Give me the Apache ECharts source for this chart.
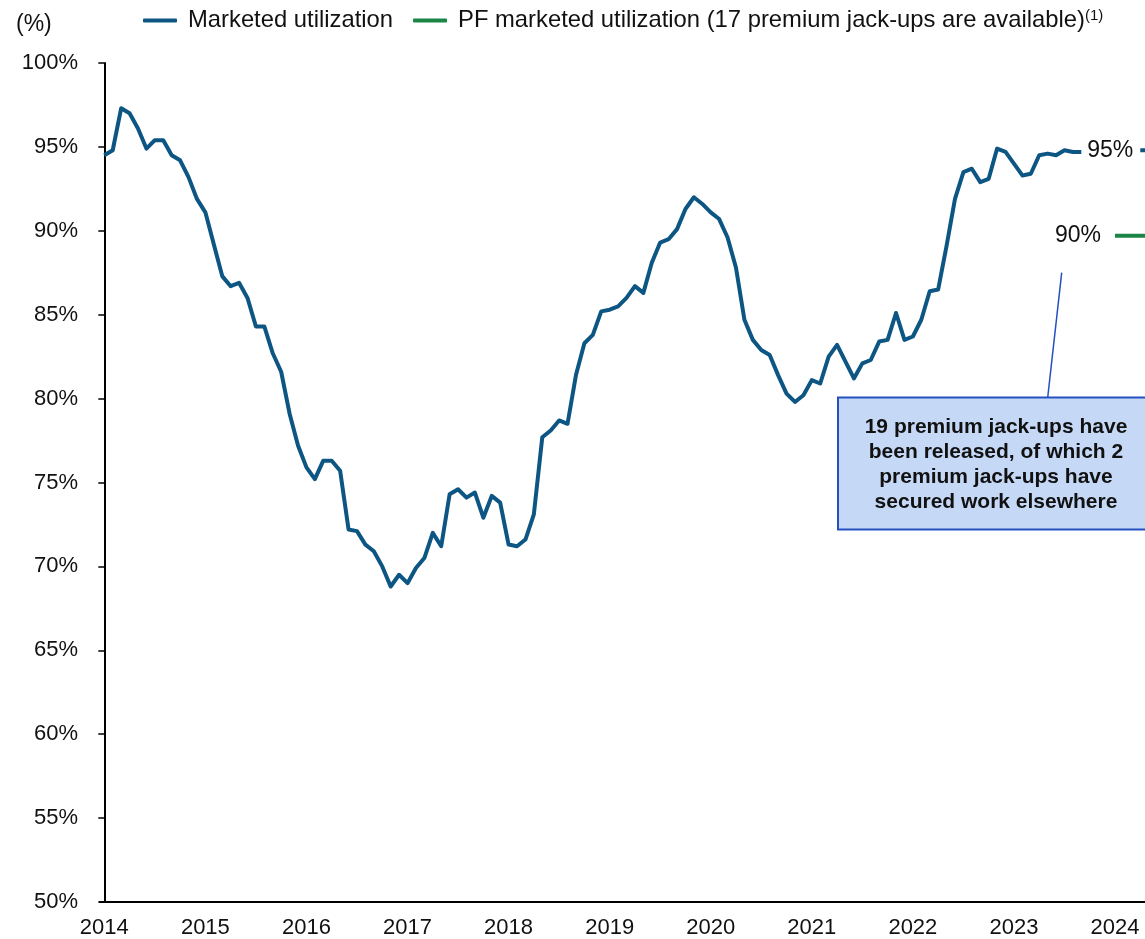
<!DOCTYPE html>
<html>
<head>
<meta charset="utf-8">
<script src="https://cdn.jsdelivr.net/npm/echarts@6/dist/echarts.min.js"></script>
<style>
  html, body { margin: 0; padding: 0; background: #fff; }
  #chart { width: 1145px; height: 939px; }
</style>
</head>
<body>
<div id="chart"></div>
<script>
// monthly marketed utilization (%), Jan 2014 .. Sep 2023
var utilization = [
    94.5, 94.8, 97.3, 97.0, 96.1, 94.9, 95.4, 95.4, 94.5, 94.2, 93.2, 91.9,
    91.1, 89.2, 87.3, 86.7, 86.9, 86.0, 84.3, 84.3, 82.7, 81.6, 79.1, 77.2,
    75.9, 75.2, 76.3, 76.3, 75.7, 72.2, 72.1, 71.3, 70.9, 70.0, 68.8, 69.5,
    69.0, 69.9, 70.5, 72.0, 71.2, 74.3, 74.6, 74.1, 74.4, 72.9, 74.2, 73.8,
    71.3, 71.2, 71.6, 73.1, 77.7, 78.1, 78.7, 78.5, 81.4, 83.3, 83.8, 85.2,
    85.3, 85.5, 86.0, 86.7, 86.3, 88.1, 89.3, 89.5, 90.1, 91.3, 92.0, 91.6,
    91.1, 90.7, 89.6, 87.8, 84.7, 83.5, 82.9, 82.6, 81.4, 80.3, 79.8, 80.2,
    81.1, 80.9, 82.5, 83.2, 82.2, 81.2, 82.1, 82.3, 83.4, 83.5, 85.1, 83.5,
    83.7, 84.7, 86.4, 86.5, 89.1, 91.9, 93.5, 93.7, 92.9, 93.1, 94.9, 94.7,
    94.0, 93.3, 93.4, 94.5, 94.6, 94.5, 94.8, 94.7, 94.7
];
var startYear = 2014;
var yearTicks = ['2014', '2015', '2016', '2017', '2018', '2019', '2020', '2021', '2022', '2023', '2024'];

// end markers (month index counted from Jan 2014, value %)
var currentEnd = [[123, 94.8], [132, 94.8]];
var pfEnd = [[120, 89.7], [132, 89.7]];

var nameMarketed = 'Marketed utilization';
var namePF = 'PF marketed utilization (17 premium jack-ups are available)';
var noteLines = [
    '19 premium jack-ups have',
    'been released, of which 2',
    'premium jack-ups have',
    'secured work elsewhere'
];

var blue = '#0d5683';
var green = '#1b8546';
var fontFam = '"Liberation Sans", Arial, sans-serif';

var lineData = utilization.map(function (v, i) {
    return [i, v];
});
var monthTicks = yearTicks.map(function (y) {
    return (parseInt(y, 10) - startYear) * 12;
});

// only the first point of an end marker carries the label
function endData(pts) {
    return pts.map(function (p, i) {
        return {value: p, label: {show: i === 0}};
    });
}

function endLabel(dist) {
    return {
        show: true,
        position: 'left',
        distance: dist,
        fontSize: 23,
        color: '#111',
        fontFamily: fontFam,
        formatter: function (p) {
            return Math.round(p.value[1]) + '%';
        }
    };
}

var myChart = echarts.init(document.getElementById('chart'));

var option = {
    animation: false,
    textStyle: {fontFamily: fontFam},
    title: {
        text: '(%)',
        left: 11,
        top: 8,
        textStyle: {fontSize: 23, fontWeight: 'normal', color: '#111', fontFamily: fontFam}
    },
    legend: {
        left: 143,
        top: 8,
        padding: 0,
        itemWidth: 34,
        itemHeight: 4,
        itemGap: 20,
        icon: 'roundRect',
        data: [nameMarketed, namePF],
        formatter: function (name) {
            return name === namePF ? name + '{sup|(1)}' : name;
        },
        textStyle: {
            fontSize: 23.8,
            color: '#111',
            fontFamily: fontFam,
            padding: [0, 0, 0, 6],
            rich: {
                sup: {fontSize: 15, verticalAlign: 'top', padding: [0, 0, 10, 0], color: '#111', fontFamily: fontFam}
            }
        }
    },
    grid: {
        left: 100,
        right: 0,
        top: 63,
        bottom: 37,
        containLabel: false
    },
    xAxis: {
        type: 'value',
        min: -0.51,
        max: 123.56,
        axisLine: {show: true, lineStyle: {color: '#000', width: 2}},
        axisTick: {show: false},
        splitLine: {show: false},
        axisLabel: {
            customValues: monthTicks,
            margin: 15,
            fontSize: 22,
            color: '#111',
            fontFamily: fontFam,
            formatter: function (v) {
                return yearTicks[Math.round(v / 12)];
            }
        }
    },
    yAxis: {
        type: 'value',
        min: 50,
        max: 100,
        interval: 5,
        axisLine: {show: true, lineStyle: {color: '#000', width: 2}},
        axisTick: {show: true, length: 6, lineStyle: {color: '#000', width: 1.5}},
        splitLine: {show: false},
        axisLabel: {
            margin: 22,
            fontSize: 22,
            color: '#111',
            fontFamily: fontFam,
            formatter: '{value}%'
        }
    },
    series: [{
        name: nameMarketed,
        type: 'line',
        data: lineData,
        color: blue,
        showSymbol: false,
        lineStyle: {width: 4, color: blue, join: 'round'},
        z: 3
    }, {
        name: nameMarketed,
        type: 'line',
        data: endData(currentEnd),
        color: blue,
        showSymbol: true,
        symbolSize: 0,
        lineStyle: {width: 4, color: blue},
        label: endLabel(7)
    }, {
        name: namePF,
        type: 'line',
        data: endData(pfEnd),
        color: green,
        showSymbol: true,
        symbolSize: 0,
        lineStyle: {width: 4, color: green},
        label: endLabel(14)
    }],
    graphic: [{
        type: 'line',
        shape: {x1: 1061.7, y1: 272.7, x2: 1047.7, y2: 397.5},
        style: {stroke: '#2450c0', lineWidth: 1.5},
        z: 10
    }, {
        type: 'rect',
        shape: {x: 838, y: 397.5, width: 318, height: 132},
        style: {fill: '#c5d8f6', stroke: '#2450c0', lineWidth: 2},
        z: 10
    }, {
        type: 'text',
        x: 996,
        y: 465,
        style: {
            text: noteLines.join('\n'),
            fill: '#111',
            font: 'bold 21px ' + fontFam,
            textAlign: 'center',
            textVerticalAlign: 'middle',
            align: 'center',
            verticalAlign: 'middle',
            lineHeight: 25
        },
        z: 11
    }]
};

myChart.setOption(option);
</script>
</body>
</html>
